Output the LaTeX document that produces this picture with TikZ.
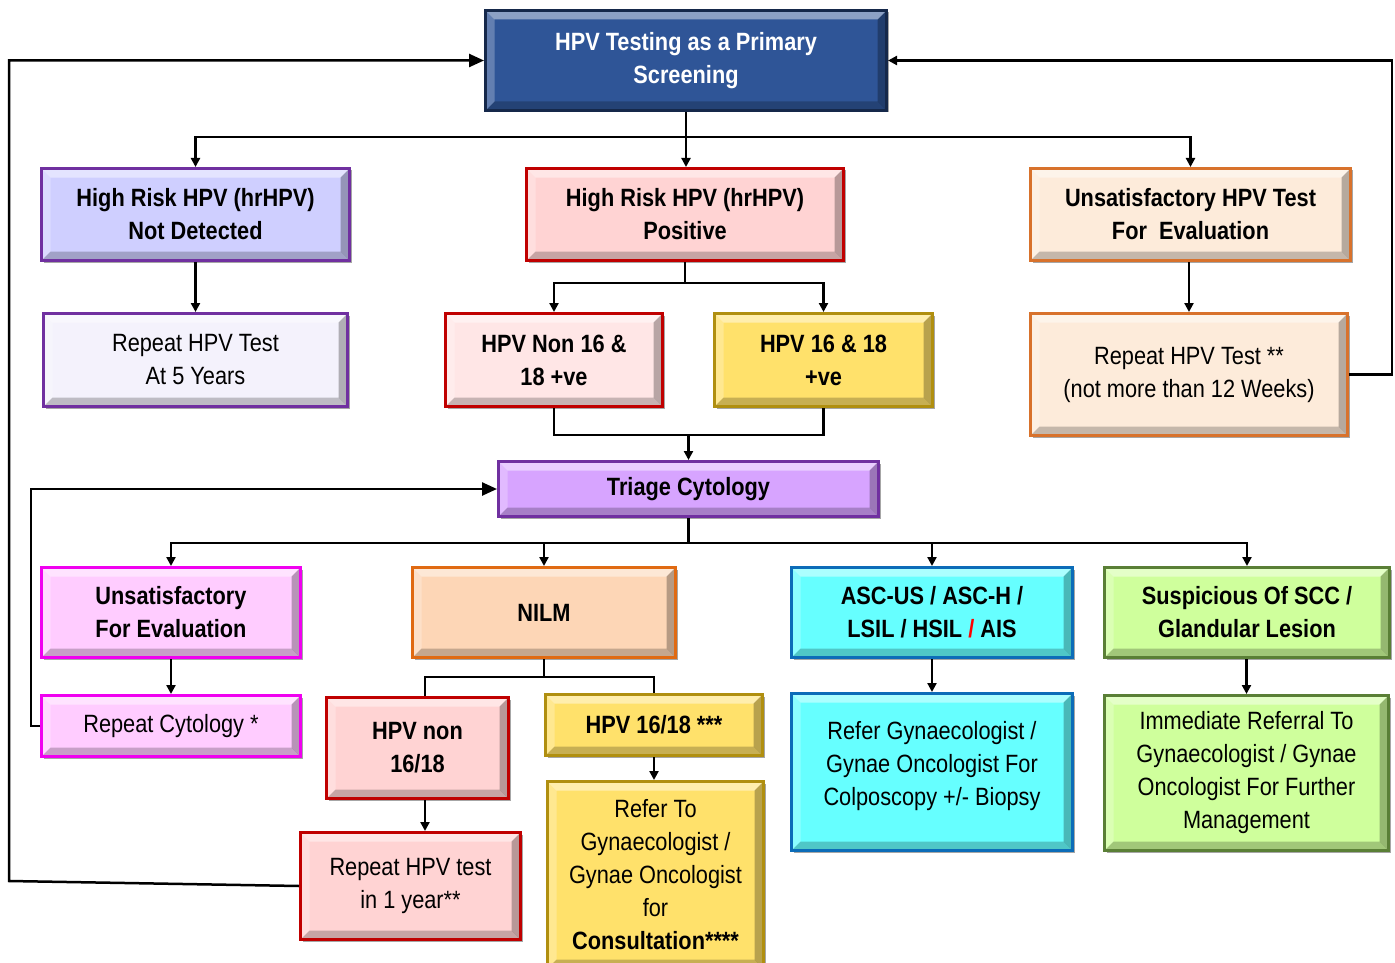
\documentclass[tikz,border=0pt]{standalone}
\usepackage{fontspec}
\setmainfont{Liberation Sans}[FakeStretch=0.87]
\usetikzlibrary{arrows.meta,calc,shadows}

\definecolor{topfill}{HTML}{2F5597}
\definecolor{topline}{HTML}{15284A}
\definecolor{lavfill}{HTML}{CFCFFF}
\definecolor{purpline}{HTML}{7030A0}
\definecolor{palefill}{HTML}{F4F2FC}
\definecolor{pinkfill}{HTML}{FFD3D3}
\definecolor{palepink}{HTML}{FFE6E6}
\definecolor{redline}{HTML}{C00000}
\definecolor{peachfill}{HTML}{FDEBDA}
\definecolor{orangeline}{HTML}{D8722C}
\definecolor{yelfill}{HTML}{FFE16B}
\definecolor{yelline}{HTML}{B08F10}
\definecolor{violetfill}{HTML}{D7A4FF}
\definecolor{magfill}{HTML}{FFCCFF}
\definecolor{magline}{HTML}{F000F0}
\definecolor{nilmfill}{HTML}{FDD6B6}
\definecolor{nilmline}{HTML}{E06A12}
\definecolor{cyanfill}{HTML}{66FFFF}
\definecolor{blueline}{HTML}{0C6CB8}
\definecolor{greenfill}{HTML}{CFFF9C}
\definecolor{greenline}{HTML}{5A7F36}

\tikzset{
  bevel/.style={path picture={
    \fill[white,opacity=.45]
      (path picture bounding box.north west) -- (path picture bounding box.north east)
      -- ([shift={(-9pt,-9pt)}]path picture bounding box.north east)
      -- ([shift={(9pt,-9pt)}]path picture bounding box.north west) -- cycle;
    \fill[white,opacity=.25]
      (path picture bounding box.north west) -- ([shift={(9pt,-9pt)}]path picture bounding box.north west)
      -- ([shift={(9pt,9pt)}]path picture bounding box.south west)
      -- (path picture bounding box.south west) -- cycle;
    \fill[black,opacity=.28]
      (path picture bounding box.north east) -- ([shift={(-9pt,-9pt)}]path picture bounding box.north east)
      -- ([shift={(-9pt,9pt)}]path picture bounding box.south east)
      -- (path picture bounding box.south east) -- cycle;
    \fill[black,opacity=.22]
      (path picture bounding box.south west) -- ([shift={(9pt,9pt)}]path picture bounding box.south west)
      -- ([shift={(-9pt,9pt)}]path picture bounding box.south east)
      -- (path picture bounding box.south east) -- cycle;
  }},
  box/.style={draw, line width=3pt, align=center, inner sep=0pt, bevel,
    drop shadow={shadow xshift=2pt, shadow yshift=-2pt, opacity=.35, fill=black},
    font=\fontsize{25}{33}\selectfont},
  bbox/.style={box, font=\fontsize{25}{33}\selectfont\bfseries},
  sz/.style 2 args={minimum width=#1pt, minimum height=#2pt},
  conn/.style={line width=2.5pt, black},
  arr/.style={conn, -{Triangle[length=9pt,width=9pt]}},
  bigarr/.style={conn, -{Triangle[length=15pt,width=13pt]}},
}

\begin{document}
\begin{tikzpicture}[x=1pt,y=-1pt]
\useasboundingbox (0,0) rectangle (1395,963);
\clip (0,0) rectangle (1395,963);

% first level
\node[bbox, sz={401}{100}, fill=topfill, draw=topline, text=white] (top) at (686,60.5)
  {HPV Testing as a Primary\\Screening};

% HPV result
\node[bbox, sz={308}{92}, fill=lavfill, draw=purpline] (nd) at (195.5,214.5)
  {High Risk HPV (hrHPV)\\Not Detected};
\node[bbox, sz={317}{92}, fill=pinkfill, draw=redline] (pos) at (685,214.5)
  {High Risk HPV (hrHPV)\\Positive};
\node[bbox, sz={320}{92}, fill=peachfill, draw=orangeline] (unsat) at (1190.5,214.5)
  {Unsatisfactory HPV Test\\For\ \ Evaluation};

\node[box, sz={304}{93}, fill=palefill, draw=purpline] (rep5) at (195.5,360)
  {Repeat HPV Test\\At 5 Years};
\node[bbox, sz={217}{93}, fill=palepink, draw=redline] (n1618) at (554,360)
  {HPV Non 16 \&\\18 +ve};
\node[bbox, sz={218}{93}, fill=yelfill, draw=yelline] (p1618) at (823.5,360)
  {HPV 16 \& 18\\+ve};
\node[box, sz={317}{122}, fill=peachfill, draw=orangeline] (rep12) at (1189,374.5)
  {Repeat HPV Test **\\(not more than 12 Weeks)};

% cytology
\node[bbox, sz={380}{55}, fill=violetfill, draw=purpline] (triage) at (688.5,489)
  {Triage Cytology};

\node[bbox, sz={259}{90}, fill=magfill, draw=magline] (unsf) at (171,612.5)
  {Unsatisfactory\\For Evaluation};
\node[bbox, sz={263}{90}, fill=nilmfill, draw=nilmline] (nilm) at (544,612.5)
  {NILM};
\node[bbox, sz={281}{90}, fill=cyanfill, draw=blueline] (asc) at (932,612.5)
  {ASC-US / ASC-H /\\LSIL / HSIL {\color{red}/} AIS};
\node[bbox, sz={285}{90}, fill=greenfill, draw=greenline] (susp) at (1247,612.5)
  {Suspicious Of SCC /\\Glandular Lesion};

\node[box, sz={259}{61}, fill=magfill, draw=magline] (repcyt) at (171,726)
  {Repeat Cytology *};
\node[bbox, sz={182}{101}, fill=pinkfill, draw=redline] (hpvn) at (417.5,748)
  {HPV non\\16/18};
\node[bbox, sz={217}{61}, fill=yelfill, draw=yelline] (hpv16) at (654,725)
  {HPV 16/18 ***};
\node[box, sz={220}{107}, fill=pinkfill, draw=redline] (rep1y) at (410.5,886)
  {Repeat HPV test\\in 1 year**};
\node[box, sz={216}{187}, fill=yelfill, draw=yelline] (refer) at (655.5,875)
  {Refer To\\Gynaecologist /\\Gynae Oncologist\\for\\\textbf{Consultation****}};
\node[box, sz={281}{157}, fill=cyanfill, draw=blueline] (refg) at (932,772)
  {Refer Gynaecologist /\\Gynae Oncologist For\\Colposcopy +/- Biopsy\\[-15pt]\mbox{}};
\node[box, sz={284}{155}, fill=greenfill, draw=greenline] (imm) at (1246.5,773)
  {Immediate Referral To\\Gynaecologist / Gynae\\Oncologist For Further\\Management};

% connectors: primary test to its three results
\coordinate (busA) at ($(top.south)+(0,25)$);
\draw[conn] (top.south) -- (busA);
\draw[arr] (busA) -| (nd.north);
\draw[arr] (busA) -| (unsat.north);
\draw[arr] (busA) -- (busA |- pos.north);

\draw[arr] (nd.south) -- (rep5.north);
\draw[arr] (unsat.south -| rep12.north) -- (rep12.north);

% positive result splits by genotype
\coordinate (busB) at ($(pos.south)+(0,21)$);
\draw[conn] (pos.south) -- (busB);
\draw[arr] (busB) -| (n1618.north);
\draw[arr] (busB) -| (p1618.north);

% both genotype branches go to triage cytology
\coordinate (busC) at ($(n1618.south)+(0,27)$);
\draw[conn] (n1618.south) -- (busC) -| (p1618.south);
\draw[arr] (busC -| triage.north) -- (triage.north);

% repeat HPV test loops back to the primary test
\draw[arr] (rep12.east) -- ++(43,0) |- (top.east);

% triage cytology to its four outcomes
\coordinate (busD) at ($(triage.south)+(0,25)$);
\draw[conn] (triage.south) -- (busD);
\draw[arr] (busD) -| (unsf.north);
\draw[arr] (busD) -| (nilm.north);
\draw[arr] (busD) -| (asc.north);
\draw[arr] (busD) -| (susp.north);

\draw[arr] (unsf.south) -- (repcyt.north);
\draw[bigarr] (repcyt.west) -- ++(-9,0) |- (triage.west);

\draw[arr] (asc.south) -- (refg.north);
\draw[arr] (susp.south -| imm.north) -- (imm.north);

% NILM splits by genotype
\coordinate (hn) at ($(hpvn.north)+(7.5,0)$);
\coordinate (busE) at ($(nilm.south)+(0,18)$);
\draw[conn] (nilm.south) -- (busE) -| (hn);
\draw[conn] (busE) -| (hpv16.north);
\draw[arr] (hpvn.south -| hn) -- (rep1y.north -| hn);
\draw[arr] (hpv16.south) -- (hpv16.south |- refer.north);

% repeat HPV test in one year loops back to the primary test
\coordinate (loopL) at (9,881);
\draw[bigarr] (rep1y.west) -- (loopL) |- (top.west);
\end{tikzpicture}
\end{document}
